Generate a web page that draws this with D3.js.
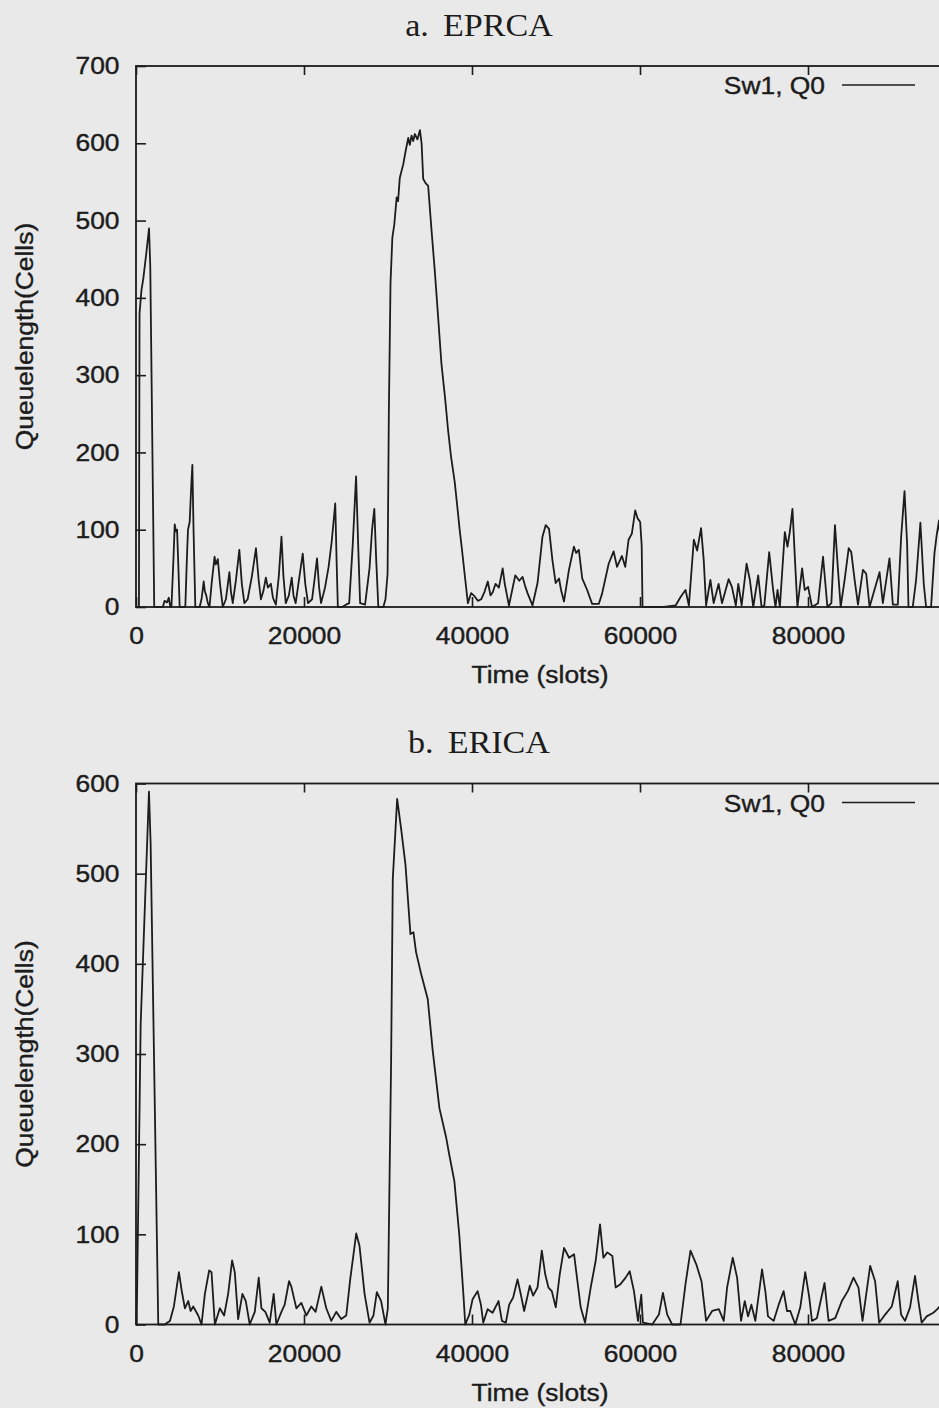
<!DOCTYPE html>
<html>
<head>
<meta charset="utf-8">
<script src="https://cdn.jsdelivr.net/npm/d3@7"></script>
<style>
  body { margin: 0; background: #e9e9e9; }
  svg { display: block; }
  .tick text { font-family: "Liberation Sans", Arial, sans-serif; font-size: 24px; fill: #1c1c1c; stroke: #1c1c1c; stroke-width: 0.4; }
  .tick line { stroke: #1c1c1c; stroke-width: 1.6; }
  .label { stroke: #1c1c1c; stroke-width: 0.4; }
</style>
</head>
<body>
<div id="chart"></div>
<script>
// x axis (shared); 100000 sits past the right edge of the page
var timeTicks = [0, 20000, 40000, 60000, 80000];
var timeMax = 100000;

// a. EPRCA - [time slot, queue length in cells]
var eprcaSamples = [
  [0,0],[350,0],[420,380],[650,410],[870,425],[1250,460],[1550,490],[1700,440],[2170,0],
  [3200,0],[3400,8],[3700,6],[3900,12],[4100,0],[4220,0],[4450,60],[4610,107],[4750,98],[4890,100],[5050,50],[5200,0],
  [5870,0],[6050,60],[6190,100],[6390,110],[6550,150],[6710,184],[6850,100],[7060,0],
  [7570,0],[7800,10],[8060,33],[8200,20],[8360,15],[8550,5],[8750,0],[9000,30],[9200,50],[9350,65],[9500,55],[9740,62],
  [10000,30],[10330,0],[10700,10],[11120,45],[11300,20],[11520,5],[11900,35],[12300,74],[12600,30],[12900,5],
  [13290,10],[13800,40],[14280,76],[14600,35],[14870,10],[15150,20],[15460,38],[15700,25],[16060,30],[16300,12],
  [16650,3],[17000,40],[17320,91],[17550,40],[17830,5],[18200,15],[18540,38],[18750,15],[19010,5],[19400,35],
  [19850,69],[20150,30],[20480,5],[20960,10],[21250,35],[21550,63],[21800,25],[22030,5],[22500,25],[22930,52],
  [23300,85],[23720,134],[23880,60],[24030,0],[24510,0],[25000,3],[25380,5],[25800,80],[26200,169],[26450,80],
  [26680,5],[27270,3],[27800,50],[28100,100],[28370,127],[28600,60],[28850,0],[29440,0],[29700,10],[29950,43],
  [30100,250],[30300,420],[30520,478],[30750,495],[31030,530],[31200,525],[31400,555],[31820,573],[32100,590],
  [32410,607],[32600,598],[32800,610],[33000,603],[33200,612],[33500,605],[33800,617],[34000,600],[34190,554],
  [34500,548],[34780,545],[35200,485],[35570,435],[36000,370],[36360,315],[36800,270],[37150,229],[37500,195],
  [37940,162],[38250,130],[38530,100],[38800,75],[39120,43],[39510,5],[39900,18],[40300,14],[40700,8],[41090,10],
  [41500,20],[41880,33],[42200,15],[42470,19],[42800,30],[43200,25],[43650,50],[43900,30],[44400,2],[45150,41],
  [45630,34],[46020,39],[46300,28],[46610,18],[47200,2],[47800,31],[48390,91],[48780,106],[49170,101],[49570,61],
  [49960,31],[50360,37],[50600,22],[50950,7],[51540,48],[52130,78],[52400,70],[52720,74],[53120,37],[53710,22],
  [54300,4],[55090,4],[55480,17],[56270,56],[56860,72],[57260,52],[57850,66],[58240,52],[58640,87],[59030,95],
  [59430,125],[59700,115],[60020,110],[60200,80],[60300,0],[62860,0],[64240,2],[64830,13],[65420,22],[65820,2],
  [66410,87],[66800,73],[67270,102],[67590,60],[67870,2],[68380,35],[68770,5],[69360,30],[69760,5],[70550,36],
  [70940,26],[71410,2],[71700,30],[72100,2],[72690,56],[73080,35],[73480,0],[74070,41],[74470,0],[74800,2],
  [75380,71],[75850,22],[76130,0],[76370,22],[76650,0],[77240,97],[77560,78],[77830,97],[78150,127],[78510,48],
  [78740,0],[79300,50],[79610,22],[80010,26],[80480,0],[81200,5],[81790,65],[82310,0],[82780,5],[83210,106],
  [83570,48],[83890,0],[84360,35],[84840,76],[85150,71],[85550,35],[85950,3],[86540,48],[86930,43],[87330,0],
  [88120,30],[88520,45],[88910,5],[89700,63],[90100,3],[90690,3],[91090,91],[91490,150],[91800,82],[91960,0],
  [92470,0],[92870,35],[93380,109],[93780,30],[94060,0],[94650,0],[95050,69],[95320,93],[95600,112],[95900,60],
  [96200,0],[97000,25],[98000,60],[99000,10],[100000,20]
];
var eprcaTicks = [0, 100, 200, 300, 400, 500, 600, 700];

// b. ERICA
var ericaSamples = [
  [0,0],[80,0],[555,333],[1545,591],[1740,534],[2650,0],[3450,0],[3700,2],[4040,4],[4510,20],[5110,58],[5430,38],
  [5820,18],[6220,26],[6500,15],[6810,20],[7410,10],[7800,0],[8200,34],[8710,60],[8990,58],[9390,0],[9980,18],
  [10490,10],[10970,34],[11440,71],[11760,58],[12160,6],[12670,34],[13070,26],[13540,0],[14140,14],[14610,52],
  [14930,18],[15400,14],[15920,2],[16390,34],[16710,0],[17310,14],[17700,22],[18220,48],[18490,42],[19090,18],
  [19680,24],[20280,10],[20870,20],[21380,14],[22060,42],[22650,18],[23250,4],[23840,14],[24430,6],[25030,10],
  [25500,50],[26220,101],[26610,87],[27210,34],[27800,2],[28270,10],[28670,36],[29180,26],[29700,0],[29980,18],
  [30370,292],[30570,494],[31090,583],[31560,550],[32080,510],[32670,433],[33030,435],[33340,413],[33940,389],
  [34730,361],[35320,304],[36120,240],[36910,208],[37300,188],[37900,159],[38490,99],[38970,34],[39200,0],
  [39680,11],[40070,28],[40670,37],[41060,22],[41340,2],[41860,17],[42450,13],[43160,26],[43560,4],[44030,2],
  [44430,22],[44900,30],[45420,50],[45820,33],[46210,15],[46880,43],[47280,32],[47800,41],[48310,82],[48710,56],
  [49100,41],[49500,37],[49970,19],[50450,56],[50960,85],[51560,74],[52150,78],[52550,48],[52940,19],[53460,2],
  [54130,41],[54730,71],[55240,111],[55640,74],[56110,80],[56710,76],[57100,41],[57700,45],[58290,52],[58770,59],
  [59280,37],[59760,4],[60150,33],[60350,2],[61460,0],[62250,11],[62730,35],[63240,11],[63830,0],[64820,0],
  [65420,45],[66010,82],[66690,67],[67320,48],[67870,4],[68590,15],[69380,17],[69970,4],[70370,41],[71040,74],
  [71560,52],[72030,4],[72470,26],[72860,9],[73260,22],[73730,4],[74530,61],[74920,37],[75240,9],[75910,4],
  [76510,22],[77100,37],[77500,15],[77890,15],[78490,0],[79080,19],[79670,58],[80150,30],[80470,4],[81060,7],
  [81970,46],[82450,4],[83240,7],[84030,26],[84740,37],[85420,52],[86010,41],[86490,4],[86880,30],[87400,65],
  [87990,48],[88470,2],[89180,11],[89970,20],[90680,48],[91080,11],[91550,4],[92150,19],[92740,54],[93140,26],
  [93530,2],[94130,9],[94920,13],[95400,17],[96500,30],[98000,20],[100000,10]
];
var ericaTicks = [0, 100, 200, 300, 400, 500, 600];

var panels = [
  {title: "a. EPRCA", samples: eprcaSamples, ticks: eprcaTicks, top: 66, bottom: 607, titleY: 36},
  {title: "b. ERICA", samples: ericaSamples, ticks: ericaTicks, top: 783.5, bottom: 1324.5, titleY: 753}
];

var width = 939, height = 1408;
var plotLeft = 136, plotRight = 976;
var ink = "#1c1c1c";

var svg = d3.select("#chart").append("svg")
  .attr("width", width)
  .attr("height", height);

var x = d3.scaleLinear().domain([0, timeMax]).range([plotLeft, plotRight]);

panels.forEach(function(p) {
  var yMax = p.ticks[p.ticks.length - 1];
  var y = d3.scaleLinear().domain([0, yMax]).range([p.bottom, p.top]);
  var g = svg.append("g");

  // title
  g.append("text")
    .attr("transform", "translate(479," + p.titleY + ") scale(1.1,1)")
    .attr("text-anchor", "middle")
    .attr("font-family", "'Liberation Serif', 'DejaVu Serif', serif")
    .attr("font-size", 31)
    .attr("word-spacing", 5)
    .attr("fill", ink)
    .text(p.title);

  // left axis
  var left = g.append("g")
    .attr("transform", "translate(" + plotLeft + ",0)")
    .call(d3.axisLeft(y).tickValues(p.ticks).tickSizeInner(-10).tickSizeOuter(0).tickPadding(15));
  left.select(".domain").remove();
  left.selectAll("text").attr("transform", "scale(1.1,1)");

  // bottom axis
  var bottom = g.append("g")
    .attr("transform", "translate(0," + p.bottom + ")")
    .call(d3.axisBottom(x).tickValues(timeTicks).tickFormat(d3.format("d"))
      .tickSizeInner(-10).tickSizeOuter(0).tickPadding(20));
  bottom.select(".domain").remove();
  bottom.selectAll("text").attr("transform", "scale(1.1,1)");

  // mirrored ticks on top
  var topAxis = g.append("g")
    .attr("transform", "translate(0," + p.top + ")")
    .call(d3.axisTop(x).tickValues(timeTicks).tickSizeInner(-9).tickSizeOuter(0).tickFormat(""));
  topAxis.select(".domain").remove();

  // frame
  g.append("rect")
    .attr("x", x(0))
    .attr("y", y(yMax))
    .attr("width", x(timeMax) - x(0))
    .attr("height", y(0) - y(yMax))
    .attr("fill", "none")
    .attr("stroke", ink)
    .attr("stroke-width", 1.8);

  // axis titles
  g.append("text")
    .attr("class", "label")
    .attr("transform", "translate(33," + ((p.top + p.bottom) / 2) + ") rotate(-90) scale(1.1,1)")
    .attr("text-anchor", "middle")
    .attr("font-family", "'Liberation Sans', Arial, sans-serif")
    .attr("font-size", 24)
    .attr("fill", ink)
    .text("Queuelength(Cells)");

  g.append("text")
    .attr("class", "label")
    .attr("transform", "translate(540," + (p.bottom + 76) + ") scale(1.1,1)")
    .attr("text-anchor", "middle")
    .attr("font-family", "'Liberation Sans', Arial, sans-serif")
    .attr("font-size", 24)
    .attr("fill", ink)
    .text("Time (slots)");

  // legend
  g.append("text")
    .attr("class", "label")
    .attr("transform", "translate(825," + (p.top + 28) + ") scale(1.1,1)")
    .attr("text-anchor", "end")
    .attr("font-family", "'Liberation Sans', Arial, sans-serif")
    .attr("font-size", 24)
    .attr("fill", ink)
    .text("Sw1, Q0");
  g.append("line")
    .attr("x1", 842).attr("x2", 915)
    .attr("y1", p.top + 19).attr("y2", p.top + 19)
    .attr("stroke", ink)
    .attr("stroke-width", 1.6);

  // series
  var line = d3.line()
    .x(function(d) { return x(d[0]); })
    .y(function(d) { return y(d[1]); });

  g.append("path")
    .datum(p.samples)
    .attr("d", line)
    .attr("fill", "none")
    .attr("stroke", ink)
    .attr("stroke-width", 1.8)
    .attr("stroke-linejoin", "round");
});
</script>
</body>
</html>
